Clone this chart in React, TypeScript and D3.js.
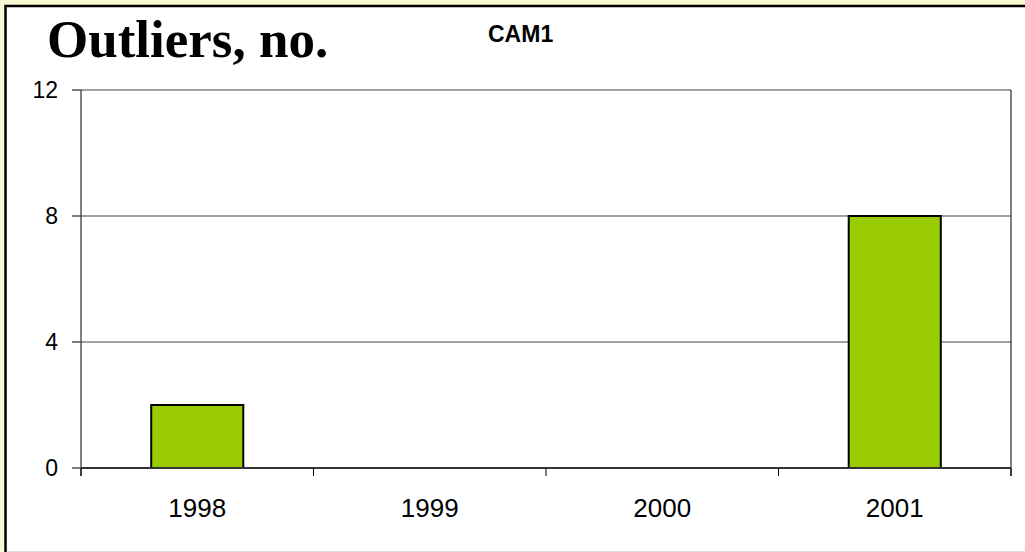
import { useEffect, useRef } from 'react';
import * as d3 from 'd3';

const years = ['1998', '1999', '2000', '2001'];
const outliers = [2, 0, 0, 8];
const yTicks = [0, 4, 8, 12];
const title = 'Outliers, no.';
const subtitle = 'CAM1';

export default function App() {
  const svgRef = useRef<SVGSVGElement>(null);

  useEffect(() => {
    const svg = d3.select(svgRef.current);
    svg.selectAll('*').remove();

    const width = 1025;
    const height = 552;
    const margin = { top: 90, right: 14, bottom: 84, left: 81 };

    // page background and chart box (right and bottom edges run off the page)
    svg.append('rect').attr('width', width).attr('height', height).attr('fill', '#FAFAD2');
    svg.append('rect')
      .attr('x', 5.5).attr('y', 6)
      .attr('width', width).attr('height', height)
      .attr('fill', '#fff')
      .attr('stroke', '#000')
      .attr('stroke-width', 2.5);
    svg.append('line')
      .attr('x1', 7).attr('x2', width)
      .attr('y1', height - 0.5).attr('y2', height - 0.5)
      .attr('stroke', '#ddd');

    const x = d3.scaleBand()
      .domain(years)
      .range([margin.left, width - margin.right])
      .paddingInner(0.604)
      .paddingOuter(0.302);
    const y = d3.scaleLinear()
      .domain([0, 12])
      .range([height - margin.bottom, margin.top]);

    const step = x.step();
    const edge = (d: string) => (x(d) as number) - (step * 0.604) / 2;
    const left = margin.left;
    const right = width - margin.right;
    const base = y(0);

    // gridlines
    svg.append('g')
      .selectAll('line')
      .data(yTicks.filter((t) => t > 0))
      .join('line')
      .attr('x1', left).attr('x2', right)
      .attr('y1', (d) => y(d)).attr('y2', (d) => y(d))
      .attr('stroke', '#808080')
      .attr('stroke-width', 1.5);

    // bars
    svg.append('g')
      .selectAll('rect')
      .data(years.map((yr, i) => ({ yr, v: outliers[i] })).filter((d) => d.v > 0))
      .join('rect')
      .attr('x', (d) => x(d.yr) as number)
      .attr('y', (d) => y(d.v))
      .attr('width', x.bandwidth())
      .attr('height', (d) => base - y(d.v))
      .attr('fill', '#99CC00')
      .attr('stroke', '#000')
      .attr('stroke-width', 2);

    // y axis
    const yAxis = svg.append('g');
    yAxis.append('line')
      .attr('x1', left).attr('x2', left)
      .attr('y1', y(12)).attr('y2', base + 8)
      .attr('stroke', '#000');
    yAxis.selectAll('line.tick')
      .data(yTicks)
      .join('line')
      .attr('class', 'tick')
      .attr('x1', left - 9).attr('x2', left)
      .attr('y1', (d) => y(d)).attr('y2', (d) => y(d))
      .attr('stroke', '#555')
      .attr('stroke-width', 1.5);
    yAxis.selectAll('text')
      .data(yTicks)
      .join('text')
      .attr('x', left - 23)
      .attr('y', (d) => y(d))
      .attr('dy', '0.36em')
      .attr('text-anchor', 'end')
      .attr('font-family', 'Liberation Sans, Arial, sans-serif')
      .attr('font-size', 23)
      .attr('fill', '#000')
      .text((d) => d);

    // right frame
    svg.append('line')
      .attr('x1', right).attr('x2', right)
      .attr('y1', y(12)).attr('y2', base + 8)
      .attr('stroke', '#000');

    // x axis
    const xAxis = svg.append('g');
    xAxis.append('line')
      .attr('x1', left).attr('x2', right)
      .attr('y1', base).attr('y2', base)
      .attr('stroke', '#333')
      .attr('stroke-width', 2);
    const edges = years.map(edge).concat([right]);
    xAxis.selectAll('line.tick')
      .data(edges)
      .join('line')
      .attr('class', 'tick')
      .attr('x1', (d) => d).attr('x2', (d) => d)
      .attr('y1', base).attr('y2', base + 8)
      .attr('stroke', '#000');
    xAxis.selectAll('text')
      .data(years)
      .join('text')
      .attr('x', (d) => (x(d) as number) + x.bandwidth() / 2)
      .attr('y', base + 49)
      .attr('text-anchor', 'middle')
      .attr('font-family', 'Liberation Sans, Arial, sans-serif')
      .attr('font-size', 26)
      .attr('fill', '#000')
      .text((d) => d);

    // titles
    svg.append('text')
      .attr('x', 47).attr('y', 57)
      .attr('font-family', 'Liberation Serif, Times New Roman, serif')
      .attr('font-weight', 'bold')
      .attr('font-size', 53)
      .attr('fill', '#000')
      .text(title);
    svg.append('text')
      .attr('x', 488).attr('y', 42)
      .attr('font-family', 'Liberation Sans, Arial, sans-serif')
      .attr('font-weight', 'bold')
      .attr('font-size', 23)
      .attr('fill', '#000')
      .text(subtitle);
  }, []);

  return (
    <svg
      ref={svgRef}
      width={1025}
      height={552}
      style={{ position: 'fixed', top: 0, left: 0, display: 'block' }}
    />
  );
}
